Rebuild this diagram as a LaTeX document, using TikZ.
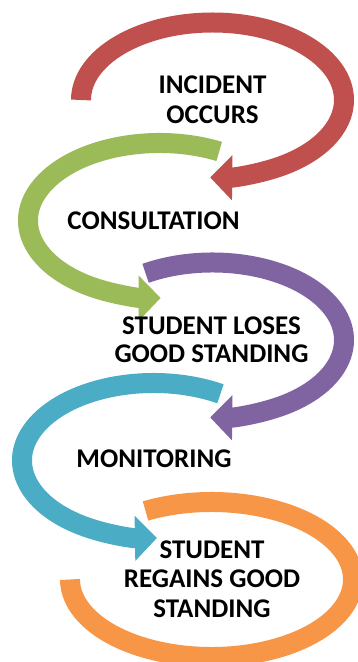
\documentclass[tikz,border=0pt]{standalone}
\usepackage{fontspec}
\newfontfamily\labfont{Carlito}
\usetikzlibrary{arrows.meta}
\definecolor{cred}{HTML}{C0504D}
\definecolor{cgreen}{HTML}{9BBB59}
\definecolor{cpurple}{HTML}{8064A2}
\definecolor{ccyan}{HTML}{4BACC6}
\definecolor{corange}{HTML}{F79646}
\tikzset{
  band/.style={line width=20pt, draw=#1},
  bandarrow/.style={band=#1, -{Triangle[width=44pt,length=22pt]}},
  lab/.style={anchor=base, inner sep=0pt, font=\labfont\bfseries\fontsize{27}{30}\selectfont, text=black}
}
\begin{document}
\begin{tikzpicture}[x=1pt,y=1pt]
\useasboundingbox (0,0) rectangle (358,662);
\clip (0,0) rectangle (358,662);
% red
\draw[bandarrow=cred] (212.5,562) ++(180:131.5 and 77.5)
  arc[start angle=180, end angle=-91, x radius=131.5, y radius=77.5];
% green
\draw[bandarrow=cgreen] (159.5,441.5) ++(63:131.5 and 77.5)
  arc[start angle=63, end angle=270.5, x radius=131.5, y radius=77.5];
% purple
\draw[bandarrow=cpurple] (212.5,322) ++(120.6:131.5 and 77.5)
  arc[start angle=120.6, end angle=-91, x radius=131.5, y radius=77.5];
% cyan
\draw[bandarrow=ccyan] (153.5,201.5) ++(59.4:131.5 and 77.5)
  arc[start angle=59.4, end angle=271.5, x radius=131.5, y radius=77.5];
% orange
\draw[band=corange] (211.5,82.5) ++(117.8:141.5 and 77.5)
  arc[start angle=117.8, end angle=-180, x radius=141.5, y radius=77.5];
% labels
\node[lab] (inc1) at (212.5,568) {INCIDENT};
\node[lab] (inc2) at (212.5,538) {OCCURS};
\node[lab] (cons) at (153.5,432) {CONSULTATION};
\node[lab] (lose1) at (211.5,327) {STUDENT LOSES};
\node[lab] (lose2) at (211.5,299) {GOOD STANDING};
\node[lab] (mon) at (154,194) {MONITORING};
\node[lab] (reg1) at (212,103) {STUDENT};
\node[lab] (reg2) at (212,74) {REGAINS GOOD};
\node[lab] (reg3) at (212,45) {STANDING};
\end{tikzpicture}
\end{document}
